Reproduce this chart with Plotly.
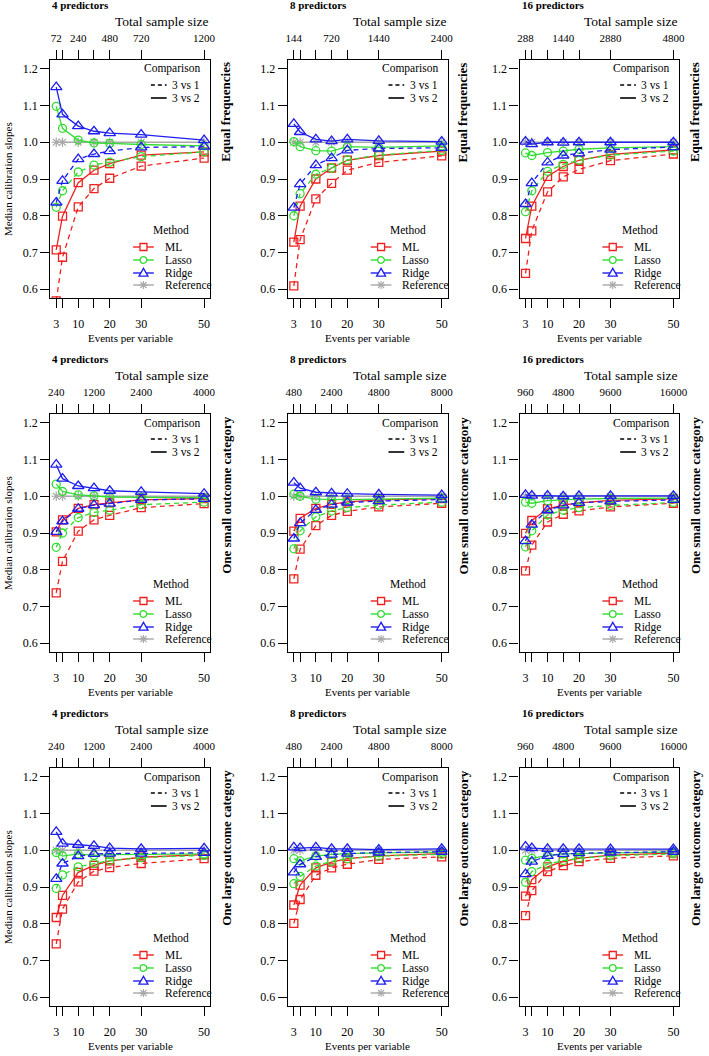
import plotly.graph_objects as go

# ---------------- data ----------------
EPV = [3, 5, 10, 15, 20, 30, 50]
EPV_TICKTEXT = ['3', '', '10', '', '20', '30', '50']
Y_TICKS = [0.6, 0.7, 0.8, 0.9, 1.0, 1.1, 1.2]
Y_TICKTEXT = ['0.6', '0.7', '0.8', '0.9', '1.0', '1.1', '1.2']

ROW_NAMES = ['Equal frequencies', 'One small outcome category', 'One large outcome category']
COL_NAMES = ['4 predictors', '8 predictors', '16 predictors']

TOP_EQ4 = ['72', '', '240', '', '480', '720', '1200']
TOP_EQ8 = ['144', '', '', '720', '', '1440', '2400']
TOP_EQ16 = ['288', '', '', '1440', '', '2880', '4800']
TOP_4 = ['240', '', '', '1200', '', '2400', '4000']
TOP_8 = ['480', '', '', '2400', '', '4800', '8000']
TOP_16 = ['960', '', '', '4800', '', '9600', '16000']

REFERENCE = [1.0, 1.0, 1.0, 1.0, 1.0, 1.0, 1.0]

# Equal frequencies
eq4_ml_31 = [0.568, 0.687, 0.824, 0.874, 0.902, 0.935, 0.957]
eq4_ml_32 = [0.707, 0.799, 0.890, 0.924, 0.942, 0.965, 0.974]
eq4_la_31 = [0.823, 0.868, 0.919, 0.938, 0.946, 0.961, 0.974]
eq4_la_32 = [1.098, 1.038, 1.006, 0.998, 0.997, 0.994, 0.990]
eq4_ri_31 = [0.836, 0.895, 0.954, 0.968, 0.976, 0.986, 0.988]
eq4_ri_32 = [1.150, 1.076, 1.044, 1.030, 1.025, 1.021, 1.006]

eq8_ml_31 = [0.609, 0.735, 0.846, 0.888, 0.924, 0.945, 0.963]
eq8_ml_32 = [0.728, 0.826, 0.900, 0.930, 0.951, 0.964, 0.976]
eq8_la_31 = [0.800, 0.860, 0.913, 0.930, 0.952, 0.965, 0.978]
eq8_la_32 = [1.002, 0.988, 0.977, 0.976, 0.988, 0.986, 0.990]
eq8_ri_31 = [0.822, 0.886, 0.938, 0.957, 0.978, 0.983, 0.985]
eq8_ri_32 = [1.050, 1.028, 1.008, 1.003, 1.008, 1.004, 1.002]

eq16_ml_31 = [0.643, 0.759, 0.865, 0.906, 0.926, 0.950, 0.968]
eq16_ml_32 = [0.738, 0.826, 0.907, 0.934, 0.951, 0.967, 0.979]
eq16_la_31 = [0.811, 0.868, 0.921, 0.940, 0.951, 0.965, 0.976]
eq16_la_32 = [0.971, 0.964, 0.972, 0.976, 0.981, 0.985, 0.988]
eq16_ri_31 = [0.832, 0.889, 0.945, 0.964, 0.970, 0.980, 0.987]
eq16_ri_32 = [1.002, 0.995, 1.000, 0.999, 1.000, 1.000, 1.000]

# One small outcome category
sm4_ml_31 = [0.737, 0.823, 0.905, 0.936, 0.948, 0.969, 0.980]
sm4_ml_32 = [0.903, 0.936, 0.967, 0.977, 0.982, 0.990, 0.994]
sm4_la_31 = [0.861, 0.900, 0.942, 0.956, 0.962, 0.977, 0.984]
sm4_la_32 = [1.033, 1.013, 1.004, 1.001, 0.998, 0.997, 0.996]
sm4_ri_31 = [0.903, 0.932, 0.966, 0.976, 0.980, 0.990, 0.993]
sm4_ri_32 = [1.086, 1.048, 1.028, 1.022, 1.015, 1.012, 1.007]

sm8_ml_31 = [0.775, 0.856, 0.920, 0.948, 0.959, 0.971, 0.981]
sm8_ml_32 = [0.905, 0.940, 0.967, 0.978, 0.985, 0.990, 0.994]
sm8_la_31 = [0.857, 0.906, 0.944, 0.960, 0.969, 0.976, 0.984]
sm8_la_32 = [1.006, 1.000, 0.992, 0.991, 0.991, 0.992, 0.995]
sm8_ri_31 = [0.885, 0.927, 0.963, 0.977, 0.983, 0.987, 0.991]
sm8_ri_32 = [1.037, 1.022, 1.011, 1.008, 1.007, 1.005, 1.003]

sm16_ml_31 = [0.797, 0.867, 0.930, 0.951, 0.960, 0.971, 0.981]
sm16_ml_32 = [0.899, 0.934, 0.966, 0.976, 0.982, 0.989, 0.993]
sm16_la_31 = [0.862, 0.906, 0.949, 0.962, 0.969, 0.975, 0.983]
sm16_la_32 = [0.984, 0.981, 0.988, 0.991, 0.992, 0.994, 0.995]
sm16_ri_31 = [0.878, 0.923, 0.962, 0.975, 0.982, 0.986, 0.990]
sm16_ri_32 = [1.004, 1.002, 1.002, 1.000, 1.001, 1.001, 1.001]

# One large outcome category
lg4_ml_31 = [0.745, 0.840, 0.914, 0.943, 0.953, 0.964, 0.977]
lg4_ml_32 = [0.817, 0.877, 0.940, 0.959, 0.971, 0.981, 0.988]
lg4_la_31 = [0.896, 0.933, 0.955, 0.964, 0.972, 0.980, 0.986]
lg4_la_32 = [0.994, 0.984, 0.990, 0.986, 0.988, 0.988, 0.990]
lg4_ri_31 = [0.922, 0.964, 0.984, 0.990, 0.991, 0.991, 0.993]
lg4_ri_32 = [1.050, 1.018, 1.015, 1.012, 1.006, 1.004, 1.005]

lg8_ml_31 = [0.801, 0.866, 0.932, 0.952, 0.962, 0.975, 0.982]
lg8_ml_32 = [0.851, 0.905, 0.952, 0.968, 0.977, 0.985, 0.991]
lg8_la_31 = [0.909, 0.929, 0.957, 0.970, 0.977, 0.984, 0.989]
lg8_la_32 = [0.977, 0.971, 0.984, 0.989, 0.991, 0.993, 0.995]
lg8_ri_31 = [0.940, 0.962, 0.982, 0.988, 0.991, 0.994, 0.996]
lg8_ri_32 = [1.008, 1.006, 1.008, 1.004, 1.004, 1.002, 1.004]

lg16_ml_31 = [0.822, 0.890, 0.942, 0.958, 0.969, 0.978, 0.985]
lg16_ml_32 = [0.875, 0.920, 0.955, 0.970, 0.978, 0.987, 0.992]
lg16_la_31 = [0.913, 0.942, 0.962, 0.972, 0.978, 0.985, 0.990]
lg16_la_32 = [0.973, 0.978, 0.986, 0.990, 0.991, 0.993, 0.995]
lg16_ri_31 = [0.935, 0.969, 0.985, 0.990, 0.992, 0.994, 0.996]
lg16_ri_32 = [1.010, 1.006, 1.004, 1.004, 1.004, 1.003, 1.003]

PANELS = [
    (0, 0, TOP_EQ4, [eq4_ml_31, eq4_ml_32, eq4_la_31, eq4_la_32, eq4_ri_31, eq4_ri_32]),
    (0, 1, TOP_EQ8, [eq8_ml_31, eq8_ml_32, eq8_la_31, eq8_la_32, eq8_ri_31, eq8_ri_32]),
    (0, 2, TOP_EQ16, [eq16_ml_31, eq16_ml_32, eq16_la_31, eq16_la_32, eq16_ri_31, eq16_ri_32]),
    (1, 0, TOP_4, [sm4_ml_31, sm4_ml_32, sm4_la_31, sm4_la_32, sm4_ri_31, sm4_ri_32]),
    (1, 1, TOP_8, [sm8_ml_31, sm8_ml_32, sm8_la_31, sm8_la_32, sm8_ri_31, sm8_ri_32]),
    (1, 2, TOP_16, [sm16_ml_31, sm16_ml_32, sm16_la_31, sm16_la_32, sm16_ri_31, sm16_ri_32]),
    (2, 0, TOP_4, [lg4_ml_31, lg4_ml_32, lg4_la_31, lg4_la_32, lg4_ri_31, lg4_ri_32]),
    (2, 1, TOP_8, [lg8_ml_31, lg8_ml_32, lg8_la_31, lg8_la_32, lg8_ri_31, lg8_ri_32]),
    (2, 2, TOP_16, [lg16_ml_31, lg16_ml_32, lg16_la_31, lg16_la_32, lg16_ri_31, lg16_ri_32]),
]

# ---------------- style ----------------
W, H = 709, 1056
FONT = 'Liberation Serif'
C_ML, C_LA, C_RI, C_REF = '#EE2020', '#30DD30', '#1E1EEE', '#A8A8A8'
METHODS = [('ML', C_ML, 'square-open', 8), ('Lasso', C_LA, 'circle-open', 8),
           ('Ridge', C_RI, 'triangle-up-open', 10)]
COL_X = [(49, 211), (290, 452), (525, 687)]
ROW_Y = [(60, 298), (414, 652), (768, 1006)]
X_RANGE = [1.12, 51.88]
Y_RANGE = [0.576, 1.224]

fig = go.Figure()
annotations = []
shapes = []


def px(x):
    return x / W


def py(y):
    return 1 - y / H


for k, (r, c, top_text, series) in enumerate(PANELS):
    n = k + 1
    xa = 'x' if n == 1 else f'x{n}'
    ya = 'y' if n == 1 else f'y{n}'
    xt = f'x{n + 9}'
    x0, x1 = COL_X[c]
    y0, y1 = ROW_Y[r]

    # reference
    fig.add_trace(go.Scatter(x=EPV, y=REFERENCE, xaxis=xa, yaxis=ya, mode='lines+markers',
                             line=dict(color=C_REF, width=1.6),
                             marker=dict(symbol='asterisk-open', size=8, color=C_REF,
                                         line=dict(color=C_REF, width=1.2)),
                             showlegend=False, hoverinfo='skip'))
    for m, (name, col, sym, sz) in enumerate(METHODS):
        for j, dash in enumerate(['5px,4px', 'solid']):
            fig.add_trace(go.Scatter(x=EPV, y=series[2 * m + j], xaxis=xa, yaxis=ya,
                                     mode='lines+markers',
                                     line=dict(color=col, width=1.3, dash=dash),
                                     marker=dict(symbol=sym, size=sz, color=col,
                                                 line=dict(color=col, width=1.3)),
                                     showlegend=False, hoverinfo='skip'))
    # invisible trace for top axis
    fig.add_trace(go.Scatter(x=EPV, y=REFERENCE, xaxis=xt, yaxis=ya, mode='lines',
                             line=dict(width=0, color='rgba(0,0,0,0)'),
                             showlegend=False, hoverinfo='skip'))

    dom_x = [px(x0), px(x1)]
    dom_y = [py(y1), py(y0)]
    axis_common = dict(showgrid=False, zeroline=False, showline=True, linecolor='black',
                       linewidth=1.3, ticks='outside', tickcolor='black', tickwidth=1,
                       tickfont=dict(family=FONT, size=12, color='black'))
    fig.layout[f'xaxis{"" if n == 1 else n}'] = dict(
        domain=dom_x, range=X_RANGE, anchor=ya, tickvals=EPV, ticktext=EPV_TICKTEXT,
        ticklen=9, mirror=True, ticklabelstandoff=5, **axis_common)
    fig.layout[f'xaxis{n + 9}'] = dict(
        overlaying=xa, anchor=ya, side='top', range=X_RANGE, tickvals=EPV,
        ticktext=top_text, ticklen=9, ticklabelstandoff=3,
        **{**axis_common, 'tickfont': dict(family=FONT, size=11, color='black')})
    fig.layout[f'yaxis{"" if n == 1 else n}'] = dict(
        domain=dom_y, range=Y_RANGE, anchor=xa, tickvals=Y_TICKS, ticktext=Y_TICKTEXT,
        ticklen=9, mirror=True, **axis_common)

    # panel texts
    annotations.append(dict(text=f'<b>{COL_NAMES[c]}</b>', xref='paper', yref='paper',
                            x=px(x0), y=py(y0 - 55), xanchor='left', yanchor='middle',
                            showarrow=False, font=dict(family=FONT, size=11, color='black')))
    annotations.append(dict(text='Total sample size', xref='paper', yref='paper',
                            x=px(x1 + 1), y=py(y0 - 39), xanchor='right', yanchor='middle',
                            showarrow=False, font=dict(family=FONT, size=13.5, color='black')))
    annotations.append(dict(text='Events per variable', xref='paper', yref='paper',
                            x=px((x0 + x1) / 2), y=py(y1 + 40), xanchor='center', yanchor='middle',
                            showarrow=False, font=dict(family=FONT, size=11, color='black')))
    annotations.append(dict(text=f'<b>{ROW_NAMES[r]}</b>', xref='paper', yref='paper',
                            x=px(x1 + 16), y=py(y0), xanchor='center', yanchor='top',
                            textangle=-90, showarrow=False,
                            font=dict(family=FONT, size=13, color='black')))
    if c == 0:
        annotations.append(dict(text='Median calibration slopes', xref='paper', yref='paper',
                                x=px(6), y=py((y0 + y1) / 2), xanchor='center', yanchor='middle',
                                textangle=-90, showarrow=False,
                                font=dict(family=FONT, size=11, color='black')))

    # in-panel legends
    bw, bh = x1 - x0, y1 - y0
    xd = f'{xa} domain'
    yd = f'{ya} domain'

    def fx(p):
        return p / bw

    def fy(p):
        return 1 - p / bh

    leg_font = dict(family=FONT, size=11.5, color='black')
    annotations.append(dict(text='Comparison', xref=xd, yref=yd, x=fx(bw - 8), y=fy(9),
                            xanchor='right', yanchor='middle', showarrow=False, font=leg_font))
    for lbl, dd, off in [('3 vs 1', '4px,3px', 25), ('3 vs 2', 'solid', 38)]:
        annotations.append(dict(text=lbl, xref=xd, yref=yd, x=fx(bw - 8), y=fy(off),
                                xanchor='right', yanchor='middle', showarrow=False, font=leg_font))
        shapes.append(dict(type='line', xref=xd, yref=yd, x0=fx(102), x1=fx(118),
                           y0=fy(off), y1=fy(off),
                           line=dict(color='black', width=1.6, dash=dd)))
    annotations.append(dict(text='Method', xref=xd, yref=yd, x=fx(122), y=fy(170),
                            xanchor='center', yanchor='middle', showarrow=False, font=leg_font))
    leg_items = [('ML', C_ML, 187), ('Lasso', C_LA, 200), ('Ridge', C_RI, 213), ('Reference', C_REF, 225)]
    for lbl, col, off in leg_items:
        annotations.append(dict(text=lbl, xref=xd, yref=yd, x=fx(114), y=fy(off),
                                xanchor='left', yanchor='middle', showarrow=False, font=leg_font))
        shapes.append(dict(type='line', xref=xd, yref=yd, x0=fx(84), x1=fx(105),
                           y0=fy(off), y1=fy(off), line=dict(color=col, width=1.4)))
        cx, cy = fx(94.5), fy(off)
        base = dict(xref=xd, yref=yd, xsizemode='pixel', ysizemode='pixel',
                    xanchor=cx, yanchor=cy)
        if lbl == 'ML':
            shapes.append(dict(type='rect', x0=-3.5, x1=3.5, y0=-3.5, y1=3.5,
                               line=dict(color=col, width=1.3), fillcolor='white', **base))
        elif lbl == 'Lasso':
            shapes.append(dict(type='circle', x0=-3.3, x1=3.3, y0=-3.3, y1=3.3,
                               line=dict(color=col, width=1.3), fillcolor='white', **base))
        elif lbl == 'Ridge':
            shapes.append(dict(type='path', path='M -4.5,-3.2 L 4.5,-3.2 L 0,4.6 Z',
                               line=dict(color=col, width=1.3), fillcolor='white', **base))
        else:
            for seg in ['M -4,0 L 4,0', 'M 0,-4 L 0,4', 'M -3,-3 L 3,3', 'M -3,3 L 3,-3']:
                shapes.append(dict(type='path', path=seg, line=dict(color=col, width=1.1), **base))

fig.update_layout(
    width=W, height=H,
    margin=dict(l=0, r=0, t=0, b=0),
    paper_bgcolor='white', plot_bgcolor='white',
    annotations=annotations, shapes=shapes,
    showlegend=False,
    font=dict(family=FONT, color='black'),
)

fig.write_html('out.html', config={'displayModeBar': False},
               post_script="document.body.style.margin='0';")
